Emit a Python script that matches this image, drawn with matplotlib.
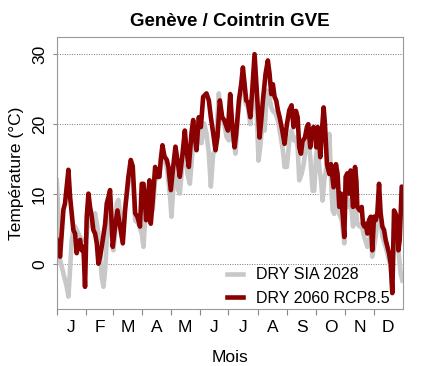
import numpy as np
import matplotlib.pyplot as plt

plt.rcParams['font.family'] = ['Liberation Sans', 'DejaVu Sans']

# daily mean temperature (day of year, deg C)
sia_days = [0, 1.7, 3.5, 7, 10.5, 12.3, 14, 15.8, 17.5, 19.3, 22.8, 26.3, 29.8, 31.6, 33.4,
            35.1, 36.9, 38.6, 40.4, 43.9, 47.4, 49.2, 51, 52.7, 54.5, 56.2, 58, 59.7, 61.5,
            63.2, 65, 66.7, 69.6, 72, 75.5, 78, 80.8, 82.6, 86.1, 89.6, 91.4, 93.1, 94.9,
            97.7, 99.1, 101.2, 103.7, 107.2, 110.7, 112.5, 116, 119.5, 120.9, 122.7, 125.1,
            128, 129.7, 132.2, 135, 137.8, 140.3, 143.8, 147.3, 149.7, 152.6, 155.4, 157.8,
            160.3, 162.4, 164.9, 167.3, 169.4, 170.8, 173.7, 176.5, 179, 181.4, 183.9, 186.3,
            188.4, 190.9, 194.4, 196.9, 199, 201.5, 204, 206, 208.5, 210.2, 212.7, 214.8,
            217.3, 219, 221.5, 223.6, 226.1, 227.8, 230.6, 233.1, 235.6, 238.4, 240.1, 242.6,
            245.1, 247.5, 249.6, 252.1, 253.9, 255.6, 258.1, 260.2, 262.7, 265.1, 267.2,
            269.7, 271.4, 273.2, 275, 276.7, 278.5, 280.2, 282, 284.8, 287.3, 289, 290.8,
            292.5, 294.3, 296, 297.8, 300.3, 303.1, 304.5, 308, 309.8, 312.3, 314.4, 316.8,
            319.3, 321.4, 323.9, 327.4, 330.9, 332.6, 336.2, 339.7, 343.2, 346.7, 350.2, 352,
            353.7, 355.5, 359, 360.8, 362.5, 364.3]
sia_temp = [12.0, 7.3, 0.6, -1.3, -3.2, -4.6, -0.8, 3.5, 4.9, 5.4, 4.4, 3.5, 3.5, 4.0, 7.7,
            5.8, 5.4, 6.8, 7.3, 4.4, -1.8, -3.2, -0.8, 3.5, 4.9, 9.6, 6.3, 2.0, 4.4,
            8.7, 9.2, 7.3, 4.4, 8.2, 11.5, 13.4, 11.5, 6.3, 5.8, 4.4, 2.5, 6.3, 9.6,
            10.1, 7.3, 7.8, 12.0, 12.5, 14.9, 15.8, 13.9, 9.6, 6.8, 10.6, 14.9,
            10.6, 10.1, 13.9, 17.3, 12.9, 11.5, 17.3, 16.3, 19.6, 17.3, 20.1, 18.7,
            15.8, 11.1, 15.8, 16.3, 21.0, 24.4, 21.0, 20.1, 18.2, 17.7, 21.5, 17.7,
            15.8, 21.0, 25.3, 26.7, 23.0, 22.4, 20.0, 22.8, 26.7, 23.4, 14.8, 17.2,
            21.0, 19.1, 24.8, 24.3, 22.4, 21.9, 21.5, 20.5, 18.6, 16.2, 13.9, 13.9,
            17.7, 19.1, 17.7, 18.1, 16.7, 12.0, 12.9, 14.3, 16.7, 18.6, 15.3,
            10.5, 10.5, 15.3, 17.2, 13.9, 12.0, 9.1, 12.0, 14.3, 18.6, 12.4, 7.7,
            7.2, 11.9, 10.0, 7.2, 6.3, 3.0, 10.6, 8.2, 9.2, 5.4, 9.2, 5.8,
            5.4, 5.8, 4.0, 2.5, 4.4, 1.1, 4.0, 8.2, 4.0, 2.5, 0.6, -0.3,
            -3.2, 4.9, 3.5, 1.1, -1.3, -2.3]

rcp_days = [0, 3.5, 7, 8.7, 12.3, 14, 15.8, 17.5, 19.3, 21, 22.8, 24.6, 26.3, 28.1, 29.8,
            31.6, 33.4, 35.1, 36.9, 38.6, 40.4, 42.2, 43.9, 45.7, 47.4, 51, 52.7, 54.5,
            56.2, 59, 61.5, 64, 66.7, 69.6, 72, 75.5, 78, 80.1, 82.6, 85, 87.8, 89.6, 91.4,
            92.8, 94.2, 95.6, 97.7, 99.1, 101.2, 103.7, 105.4, 108.2, 109.6, 111.4, 113.5,
            116, 117.7, 120.2, 122.7, 125.1, 127.2, 129.7, 132.2, 135, 136.7, 139.2, 142,
            143.8, 145.5, 147.3, 149.7, 151.9, 154.3, 157.8, 160.3, 162.4, 164.9, 167.3,
            169.4, 171.9, 174.4, 176.5, 179, 180.4, 182.8, 184.9, 187.4, 189.1, 192, 194.4,
            196.2, 198, 199.7, 201.5, 204, 206, 208.5, 210.2, 212, 213.8, 215.5, 217.3,
            220.1, 222.5, 224.3, 226.1, 227.8, 229.6, 231.3, 233.1, 234.9, 237.7, 240.1,
            242.6, 245.1, 247.5, 249.6, 252.1, 253.9, 255.6, 257.4, 259.1, 261.6, 263.7,
            265.1, 267.2, 268.6, 270.7, 272.1, 273.6, 275, 276.4, 277.8, 279.5, 281.3,
            282.7, 284.8, 287.3, 289, 291.8, 294.3, 296, 297.8, 299.6, 301.3, 303.1, 304.5,
            306.3, 308, 309.8, 310.8, 312.3, 314.4, 315.8, 316.8, 319.3, 321.4, 322.8,
            324.2, 325.6, 327.4, 329.1, 330.9, 332.6, 334.4, 336.2, 337.9, 339.7, 341.4,
            343.2, 345, 346.7, 348.5, 350.2, 352, 353.7, 355.5, 357.3, 359, 360.1, 361.5,
            363.6, 365]
rcp_temp = [3.5, 1.1, 7.8, 8.7, 13.5, 9.7, 7.3, 4.9, 4.4, 1.6, 3.0, 3.5, 2.0, 2.5, -3.2,
            6.8, 10.1, 8.2, 6.8, 4.9, 4.4, 3.0, 0.1, 1.1, 2.5, 5.8, 8.7, 9.6,
            10.6, 2.5, 5.4, 7.7, 5.4, 3.0, 7.7, 12.5, 14.9, 14.0, 7.3, 6.8, 5.4, 11.5, 11.5,
            9.2, 6.3, 8.7, 12.0, 5.8, 9.2, 13.9, 12.5, 12.5, 14.9, 17.0, 15.4,
            14.9, 13.9, 10.6, 13.9, 16.8, 14.9, 12.5, 15.3, 19.1, 16.3, 13.9, 18.7,
            20.6, 18.2, 16.3, 21.0, 19.6, 23.9, 24.4, 23.4, 21.0, 18.7, 16.3,
            18.2, 23.4, 21.0, 20.6, 19.6, 19.1, 24.3, 20.0, 16.7, 18.6, 23.4, 25.7,
            28.1, 25.7, 23.4, 23.1, 21.0, 24.7, 30.0, 26.2, 22.4, 18.1, 20.5, 23.4,
            27.2, 29.1, 27.2, 24.3, 25.7, 23.9, 23.4, 22.0, 21.0, 19.1, 17.2,
            20.0, 22.0, 22.7, 19.6, 21.9, 21.0, 16.7, 15.8, 17.6, 18.1, 19.6,
            20.0, 16.7, 19.1, 19.6, 18.6, 16.7, 19.6, 18.1, 15.3, 19.1, 22.4,
            20.0, 14.3, 12.9, 14.3, 11.0, 14.3, 12.9, 8.2, 10.1, 7.2, 3.9, 12.5,
            13.0, 10.1, 13.4, 11.0, 8.2, 13.9, 12.0, 8.2, 7.7, 8.2, 5.8,
            5.4, 5.8, 4.4, 6.3, 6.8, 2.0, 6.8, 6.3, 7.3, 11.5, 7.3,
            5.4, 4.9, 3.5, 2.5, 1.6, 0.1, -4.1, 7.7, 7.2, 6.3, 2.0, 3.5,
            11.1, 11.0]

month_labels = ["J", "F", "M", "A", "M", "J", "J", "A", "S", "O", "N", "D"]
month_len = [31, 28, 31, 30, 31, 30, 31, 31, 30, 31, 30, 31]

month_start = np.concatenate([[0], np.cumsum(month_len)[:-1]])
month_mid = month_start + np.array(month_len) / 2

fig = plt.figure(figsize=(4.4, 3.66), dpi=100)
ax = fig.add_axes([0.129, 0.157, 0.787, 0.741])

ax.plot(sia_days, sia_temp, color="#c8c8c8", lw=3.3, label="DRY SIA 2028",
        solid_joinstyle="round")
ax.plot(rcp_days, rcp_temp, color="#8b0000", lw=3.3, label="DRY 2060 RCP8.5",
        solid_joinstyle="round")

ax.set_xlim(0, 365)
ax.set_ylim(-6.3, 32.4)

# month boundaries as ticks, letters in the middle of each month
ax.set_xticks(month_start)
ax.set_xticklabels([])
ax.set_xticks(month_mid, minor=True)
ax.set_xticklabels(month_labels, minor=True, fontsize=12.5)
ax.tick_params(axis="x", which="major", length=4, color="#888888")
ax.tick_params(axis="x", which="minor", length=0, pad=8)

ax.set_yticks([0, 10, 20, 30])
ax.set_yticklabels(["0", "10", "20", "30"], rotation=90, va="center", fontsize=12.5)
ax.tick_params(axis="y", length=3, color="#888888", pad=4)
for yv in [0, 10, 20, 30]:
    ax.axhline(yv, color="#777777", lw=0.7, ls=(0, (1, 1.5)), zorder=0)

for sp in ax.spines.values():
    sp.set_color("#999999")
    sp.set_linewidth(0.8)

ax.set_title("Genève / Cointrin GVE", fontsize=13.5, fontweight="bold", pad=8)
ax.set_xlabel("Mois", fontsize=12.5, labelpad=11)
ax.set_ylabel("Température (°C)", fontsize=12.5, labelpad=6)

ax.legend(loc="lower right", frameon=False, fontsize=11.5, handlelength=1.0,
          handletextpad=0.8, labelspacing=0.55, borderaxespad=0.1,
          bbox_to_anchor=(0.985, -0.02))

fig.savefig("out.png", dpi=100)
